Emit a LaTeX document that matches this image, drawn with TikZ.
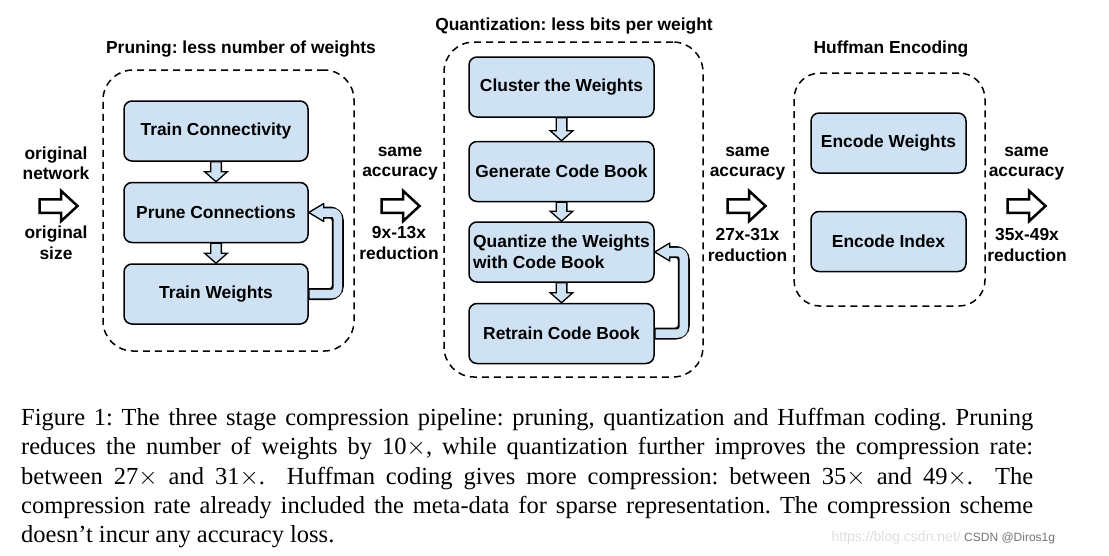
\documentclass[tikz,border=0pt]{standalone}
\usepackage{fontspec}
\setmainfont{Liberation Sans}
\newfontfamily\capfont{Liberation Serif}
\usepackage{tikz}
\usetikzlibrary{positioning,calc}
\definecolor{boxblue}{HTML}{CFE2F3}
\newcommand{\capline}[1]{\makebox[1012pt][s]{#1}}
\frenchspacing

\tikzset{
  fatarrow/.pic = {\draw[line width=2.5pt, fill=white, line join=miter]
    (-19.5,-6.75) -- (2,-6.75) -- (2,-15.25) -- (18.5,0) -- (2,15.25) -- (2,6.75) -- (-19.5,6.75) -- cycle;},
  stepdown/.pic = {\draw[line width=1.3pt, fill=boxblue]
    (-5.35,0) -- (-5.35,#1-10) -- (-11.3,#1-10) -- (0,#1) -- (11.3,#1-10) -- (5.35,#1-10) -- (5.35,0) -- cycle;}
}

\begin{document}
\begin{tikzpicture}[x=1pt, y=-1pt, node distance={20pt},
  block/.style = {draw, line width=1.5pt, rounded corners=8pt, fill=boxblue, minimum height=60pt, font=\fontsize{17.4}{20.5}\selectfont\bfseries, align=center},
  group/.style = {draw, line width=1.5pt, dash pattern=on 7pt off 5pt, rounded corners=30pt},
  lbl/.style = {font=\fontsize{17.4}{20.5}\selectfont\bfseries, align=center, inner sep=0pt},
  loopout/.style = {line width=12pt, rounded corners=8pt},
  loopin/.style = {line width=8.5pt, boxblue, rounded corners=6pt},
  loophead/.style = {draw, line width=1.3pt, fill=boxblue, line join=round}]
\useasboundingbox (0,0) rectangle (1109,555);

% dashed stage frames
\node[group, minimum width=251pt, minimum height=281pt] (prunegrp) at (228.5,210.5) {};
\node[group, minimum width=259pt, minimum height=335pt] (quantgrp) at (573.5,209.5) {};
\node[group, minimum width=191pt, minimum height=233pt, rounded corners=26pt] (huffgrp) at (889.5,189.5) {};

\node[lbl] (prunettl) at (241,49) {Pruning: less number of weights};
\node[lbl] (quantttl) at (574,26.5) {Quantization: less bits per weight};
\node[lbl] (huffttl) at (891,49) {Huffman Encoding};

% pruning
\node[block, minimum width=184pt] (tc) at (216,131) {Train Connectivity};
\node[block, minimum width=184pt] (pc) [below=of tc] {Prune Connections};
\node[block, minimum width=184pt] (tw) [below=of pc] {Train Weights};

% quantization
\node[block, minimum width=185pt] (cw) at (561.5,87) {Cluster the Weights};
\node[block, minimum width=185pt] (gcb) [below=23pt of cw] {Generate Code Book};
\node[block, minimum width=185pt, align=left] (qw) [below=19pt of gcb] {Quantize the Weights\\with Code Book};
\node[block, minimum width=185pt] (rcb) [below=of qw] {Retrain Code Book};

% huffman
\node[block, minimum width=155pt] (ew) at (888.5,143) {Encode Weights};
\node[block, minimum width=155pt] (ei) [below=37pt of ew] {Encode Index};

% steps inside the stages
\pic (tc2pc) at (tc.south) {stepdown=20};
\pic (pc2tw) at (pc.south) {stepdown=20};
\pic (cw2gcb) at (cw.south) {stepdown=23};
\pic (gcb2qw) at (gcb.south) {stepdown=19};
\pic (qw2rcb) at (qw.south) {stepdown=20};

% retrain loops
\draw[loophead] (pc.east) -- ++(15,-9) -- ++(0,18) -- cycle;
\draw[loopout] (tw.east) -- ++(29,0) |- ($(pc.east)+(15,0)$);
\draw[loopin] ($(tw.east)+(0.75,0)$) -- ++(28.25,0) |- ($(pc.east)+(13,0)$);
\draw[loophead] (qw.east) -- ++(15,-9) -- ++(0,18) -- cycle;
\draw[loopout] (rcb.east) -- ++(29,0) |- ($(qw.east)+(15,0)$);
\draw[loopin] ($(rcb.east)+(0.75,0)$) -- ++(28.25,0) |- ($(qw.east)+(13,0)$);

% pipeline arrows
\pic (a0) at (59,206) {fatarrow};
\pic (a1) at (401,206) {fatarrow};
\pic (a2) at (747,206) {fatarrow};
\pic (a3) at (1027,206) {fatarrow};

\node[lbl] (innet) at (56,163.5) {original\\network};
\node[lbl] (insize) at (56,243) {original\\size};
\node[lbl] (acc1) at (400,163.5) {same\\accuracy};
\node[lbl] (red1) at (399,243) {9x-13x\\reduction};
\node[lbl] (acc2) at (747.5,163.5) {same\\accuracy};
\node[lbl] (red2) at (747.5,245) {27x-31x\\reduction};
\node[lbl] (acc3) at (1026.5,163.5) {same\\accuracy};
\node[lbl] (red3) at (1027,245) {35x-49x\\reduction};

% caption
\node[anchor=north west, inner sep=0pt, align=left, font=\capfont\fontsize{24.5}{29.3}\selectfont] (caption) at (21,408) {%
\capline{Figure 1: The three stage compression pipeline: pruning, quantization and Huffman coding. Pruning}\\
\capline{reduces the number of weights by 10$\times$, while quantization further improves the compression rate:}\\
\capline{between 27$\times$ and 31$\times$.\ \ Huffman coding gives more compression: between 35$\times$ and 49$\times$.\ \ The}\\
\capline{compression rate already included the meta-data for sparse representation. The compression scheme}\\
doesn’t incur any accuracy loss.};

\node[anchor=east, inner sep=0pt, text=black!13, font=\fontsize{14}{16}\selectfont] (wmurl) at (961,538) {https://blog.csdn.net/};
\node[anchor=west, inner sep=0pt, text=black!55, font=\fontsize{12}{14}\selectfont] (wmtag) at (964,538) {CSDN @Diros1g};
\end{tikzpicture}
\end{document}
